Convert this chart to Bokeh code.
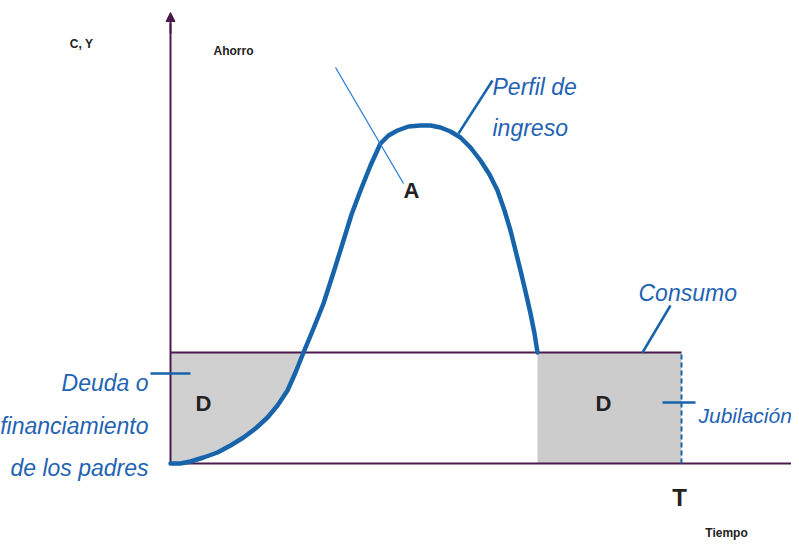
from bokeh.plotting import figure
from bokeh.models import Arrow, NormalHead
from bokeh.core.properties import value
from bokeh.embed import file_html
from bokeh.resources import INLINE

# ---- data (time on x, C/Y on y) ----
age = [0, 10, 20, 33, 47, 60, 73, 85, 97, 107, 117, 125, 133, 143, 153, 163, 173, 181, 190, 200,
       210, 218, 227, 238, 250, 260, 270, 280, 290, 300, 310, 319, 327, 334, 340, 345, 350, 355,
       360, 364, 367]
income = [0, 0, 2, 6, 11, 18, 26, 35, 46, 58, 73, 91, 111, 135, 160, 191, 223, 249, 273, 298,
          320, 328, 333, 337, 338, 338, 336, 332, 326, 316, 303, 289, 273, 253, 233, 213, 193, 172,
          150, 130, 111]
consumption = 111
retire = 367
T = 511
cross_idx = 12  # income meets consumption

BLUE = "#1864aa"
TXT_BLUE = "#1f63b3"
PURPLE = "#4a1a4a"
GRAY = "#cccccc"
SANS = value("Liberation Sans")

W, H = 791, 544
p = figure(width=W, height=H, x_range=(-170, -170 + W), y_range=(463 - H, 463),
           output_backend="svg", toolbar_location=None,
           x_axis_location=None, y_axis_location=None, min_border=0)
p.grid.visible = False
p.outline_line_color = None
p.background_fill_color = "white"

# shaded areas
p.patch(age[:cross_idx + 1] + [0], income[:cross_idx + 1] + [consumption],
        fill_color="#d0d0d0", line_color=None)
p.quad(left=[retire], right=[T], bottom=[0], top=[consumption], fill_color=GRAY, line_color=None)

# axes & consumption
p.line([0, 640], [0, 0], line_color=PURPLE, line_width=2)
p.line([0, 0], [0, 440], line_color=PURPLE, line_width=2)
p.add_layout(Arrow(end=NormalHead(size=9, fill_color=PURPLE, line_color=PURPLE),
                   x_start=0, y_start=430, x_end=0, y_end=451, line_color=PURPLE, line_width=2))
p.line([0, T], [consumption, consumption], line_color=PURPLE, line_width=2)
p.line([T, T], [0, consumption], line_color=BLUE, line_width=2, line_dash="5 3")

# income profile
p.line(age, income, line_color=BLUE, line_width=4.5, line_join="round", line_cap="round")

# leader lines
p.segment(x0=[165], y0=[396], x1=[233], y1=[280], line_color="#2a7fd6", line_width=1.3)
p.segment(x0=[322, 500, -20, 492], y0=[383, 158, 90, 61], x1=[288, 472, 20, 525], y1=[330, 111, 90, 61],
          line_color=BLUE, line_width=2.5)

# blue italic labels
kw = dict(text_font=SANS, text_font_style="italic",
          text_color=TXT_BLUE, text_baseline="alphabetic")
p.text(x=[322, 322], y=[377, 336], text=["Perfil de", "ingreso"], text_font_size="23px", **kw)
p.text(x=[468], y=[171], text=["Consumo"], text_font_size="23px", **kw)
p.text(x=[528], y=[48], text=["Jubilación"], text_font_size="21px", **kw)
p.text(x=[-22, -22, -22], y=[81, 38, -4], text=["Deuda o", "financiamiento", "de los padres"],
       text_align="right", text_font_size="23px", **kw)

# black labels
bk = dict(text_font=SANS, text_font_style="bold", text_color="#222222",
          text_align="center", text_baseline="middle")
p.text(x=[33, 433], y=[60, 60], text=["D", "D"], text_font_size="22px", **bk)
p.text(x=[241], y=[273], text=["A"], text_font_size="22px", **bk)
p.text(x=[509], y=[-34], text=["T"], text_font_size="24px", **bk)
p.text(x=[-89, 63, 556], y=[420, 413, -69], text=["C, Y", "Ahorro", "Tiempo"],
       text_font_size="12px", **bk)

open("out.html", "w").write(file_html(p, INLINE))
